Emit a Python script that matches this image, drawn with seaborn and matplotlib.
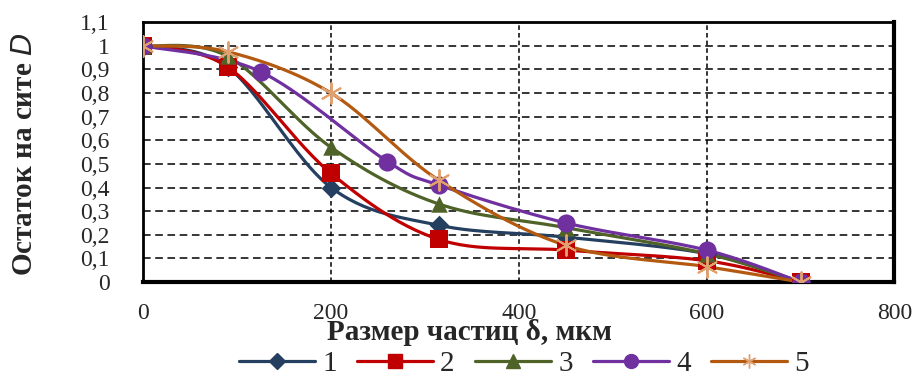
import numpy as np
import pandas as pd
import matplotlib
matplotlib.use("Agg")
import matplotlib.pyplot as plt
from matplotlib.lines import Line2D
import seaborn as sns

# sieve sizes (mkm) and residue on sieve D for five samples
x_common = [0, 90, 200, 315, 450, 600, 700]
x_s4 = [0, 125, 260, 315, 450, 600, 700]
d1 = [1.0, 0.91, 0.40, 0.24, 0.19, 0.12, 0.0]
d2 = [1.0, 0.91, 0.46, 0.18, 0.135, 0.09, 0.0]
d3 = [1.0, 0.955, 0.57, 0.33, 0.23, 0.12, 0.0]
d4 = [1.0, 0.89, 0.51, 0.41, 0.25, 0.135, 0.0]
d5 = [1.0, 0.975, 0.80, 0.43, 0.155, 0.065, 0.0]
names = ["1", "2", "3", "4", "5"]

series = [(x_common, d1), (x_common, d2), (x_common, d3), (x_s4, d4), (x_common, d5)]
colors = ["#243F60", "#C00000", "#4F6228", "#7030A0", "#B35A10"]
mcolors = ["#243F60", "#C00000", "#4F6228", "#7030A0", "#E0A070"]
markers = ["D", "s", "^", "o", (6, 2, 0)]
msizes = [100, 170, 140, 170, 220]


def smooth(xs, ys, n=30):
    # Excel-like smoothed line (Catmull-Rom bezier)
    p = np.column_stack([xs, ys]).astype(float)
    p = np.vstack([p[0], p, p[-1]])
    out = []
    t = np.linspace(0, 1, n)[:, None]
    for i in range(1, len(p) - 2):
        a, b = p[i], p[i + 1]
        c1 = a + (p[i + 1] - p[i - 1]) / 6
        c2 = b - (p[i + 2] - p[i]) / 6
        seg = ((1 - t) ** 3) * a + 3 * ((1 - t) ** 2) * t * c1 + 3 * (1 - t) * t ** 2 * c2 + t ** 3 * b
        out.append(seg if i == 1 else seg[1:])
    return np.vstack(out)


rows = []
for name, (xs, ys) in zip(names, series):
    c = smooth(xs, ys)
    for k, (xx, yy) in enumerate(c):
        rows.append({"series": name, "x": xx, "y": yy, "k": k})
curves = pd.DataFrame(rows)
points = pd.DataFrame(
    [{"series": n, "x": xx, "y": yy} for n, (xs, ys) in zip(names, series) for xx, yy in zip(xs, ys)]
)

sns.set_style("white")
plt.rcParams["font.family"] = ["Liberation Serif", "DejaVu Serif"]

fig = plt.figure(figsize=(9.24, 3.76), dpi=100)
ax = fig.add_axes([0.155, 0.25, 0.813, 0.691])

for n, col in zip(names, colors):
    sns.lineplot(data=curves[curves.series == n], x="x", y="y", sort=False,
                 color=col, lw=2.3, ax=ax, zorder=3)
for n, mcol, mk, ms in zip(names, mcolors, markers, msizes):
    sub = points[points.series == n]
    if isinstance(mk, tuple):
        ax.scatter(sub.x, sub.y, marker=mk, s=ms, color=mcol, linewidths=1.4, zorder=4)
    else:
        sns.scatterplot(data=sub, x="x", y="y", marker=mk, s=ms, color=mcol,
                        edgecolor=mcol, linewidth=0, ax=ax, zorder=4)

ax.set_xlim(0, 800)
ax.set_ylim(0, 1.1)
yt = np.round(np.arange(0, 1.11, 0.1), 1)
ax.set_xticks([0, 200, 400, 600, 800])
ax.set_yticks(yt)
ax.set_yticklabels([("%g" % v).replace(".", ",") for v in yt])
ax.tick_params(axis="y", length=0, pad=24, labelsize=17)
ax.tick_params(axis="x", length=0, pad=15, labelsize=17)

for v in np.arange(0.1, 1.05, 0.1):
    ax.axhline(v, color="black", lw=1.1, ls=(0, (5, 3)), zorder=1)
for v in [200, 400, 600]:
    ax.axvline(v, color="black", lw=1.1, ls=(0, (3, 2)), zorder=1)

for side in ["left", "top"]:
    ax.spines[side].set_linewidth(2)
    ax.spines[side].set_color("black")
for side in ["right", "bottom"]:
    ax.spines[side].set_linewidth(3)
    ax.spines[side].set_color("black")

ax.set_xlabel("")
ax.set_ylabel("")
fig.text(0.027, 0.59, "Остаток на сите $\\mathit{D}$", rotation=90, ha="center", va="center",
         fontsize=21, fontweight="bold")
fig.text(0.508, 0.115, "Размер частиц δ, мкм", ha="center", va="center",
         fontsize=21, fontweight="bold")

handles = [Line2D([0], [0], color=c, lw=2.3, marker=m, markersize=10 if m != "D" else 8,
                  markerfacecolor=mc, markeredgecolor=mc)
           for c, mc, m in zip(colors, mcolors, markers)]
fig.legend(handles, names, loc="center", bbox_to_anchor=(0.567, 0.032), ncol=5,
           frameon=False, fontsize=21, handlelength=2.6, columnspacing=0.7, handletextpad=0.25)

fig.savefig("out.png", dpi=100)
